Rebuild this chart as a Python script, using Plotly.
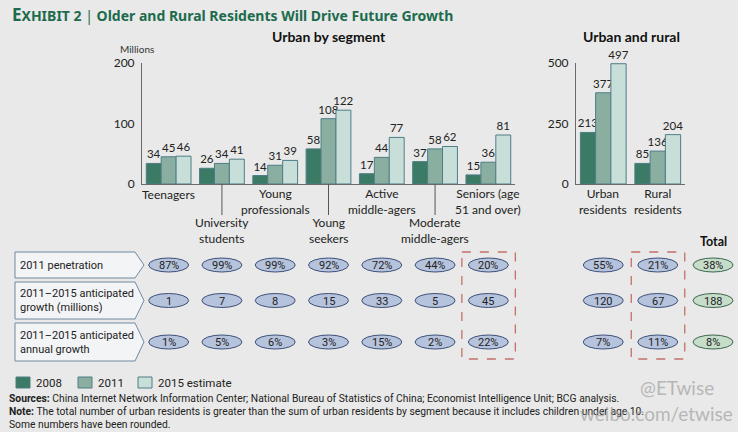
import plotly.graph_objects as go

# ---------------- data ----------------
segments = ["Teenagers", "University students", "Young professionals", "Young seekers",
            "Active middle-agers", "Moderate middle-agers", "Seniors (age 51 and over)"]
segment_labels = ["Teenagers", "University<br>students", "Young<br>professionals", "Young<br>seekers",
                  "Active<br>middle-agers", "Moderate<br>middle-agers", "Seniors (age<br>51 and over)"]
seg_2008 = [34, 26, 14, 58, 17, 37, 15]
seg_2011 = [45, 34, 31, 108, 44, 58, 36]
seg_2015 = [46, 41, 39, 122, 77, 62, 81]

areas = ["Urban residents", "Rural residents"]
area_labels = ["Urban<br>residents", "Rural<br>residents"]
area_2008 = [213, 85]
area_2011 = [377, 136]
area_2015 = [497, 204]

seg_penetration = ["87%", "99%", "99%", "92%", "72%", "44%", "20%"]
seg_growth = ["1", "7", "8", "15", "33", "5", "45"]
seg_annual = ["1%", "5%", "6%", "3%", "15%", "2%", "22%"]
area_penetration = ["55%", "21%"]
area_growth = ["120", "67"]
area_annual = ["7%", "11%"]
total_values = ["38%", "188", "8%"]

row_labels = ["2011 penetration", "2011–2015 anticipated<br>growth (millions)",
              "2011–2015 anticipated<br>annual growth"]
series_names = ["2008", "2011", "2015 estimate"]

# ---------------- style ----------------
W, H = 738, 432
BG = "#e8e9e8"
COLORS = ["#3b7a64", "#8aafa1", "#c8dfd9"]
OUTLINE = "#4f7d86"
GREEN_T = "#1d6b4e"
FONT = "Lato, Noto Sans, sans-serif"
TFONT = "Noto Sans, Open Sans, sans-serif"
NARROW = "Roboto, Liberation Sans, sans-serif"

def X(p):
    return p / W

def Y(p):
    return 1 - p / H

L0, L1 = 142, 515   # left plot pixel span
R0, R1 = 576, 685   # right plot pixel span
TOP, BASE = 63, 184

def lcx(i):
    return L0 + (i + 0.5) * (L1 - L0) / len(segments)

def rcx(j):
    return R0 + (j + 0.5) * (R1 - R0) / len(areas)

fig = go.Figure()
seg_vals = [seg_2008, seg_2011, seg_2015]
area_vals = [area_2008, area_2011, area_2015]
for k in range(3):
    fig.add_trace(go.Bar(x=segments, y=seg_vals[k], name=series_names[k], text=seg_vals[k],
                         textposition="outside", cliponaxis=False, constraintext="none",
                         textfont=dict(size=11.5, color="#222", family=FONT),
                         marker=dict(color=COLORS[k], line=dict(color=OUTLINE, width=1)),
                         showlegend=False, xaxis="x", yaxis="y"))
    fig.add_trace(go.Bar(x=areas, y=area_vals[k], name=series_names[k], text=area_vals[k],
                         textposition="outside", cliponaxis=False, constraintext="none",
                         textfont=dict(size=11.5, color="#222", family=FONT),
                         marker=dict(color=COLORS[k], line=dict(color=OUTLINE, width=1)),
                         showlegend=False, xaxis="x2", yaxis="y2"))

axis_common = dict(showgrid=False, zeroline=False, showline=True, linecolor="#6a6a6a",
                   linewidth=1, automargin=False)
fig.update_layout(
    width=W, height=H, margin=dict(l=0, r=0, t=0, b=0, pad=0, autoexpand=False),
    paper_bgcolor=BG, plot_bgcolor=BG, barmode="group", bargap=0.16, bargroupgap=0,
    showlegend=False,
    font=dict(family=FONT, color="#222"),
    xaxis=dict(domain=[X(L0), X(L1)], anchor="y", showticklabels=False, ticks="", **axis_common),
    yaxis=dict(domain=[Y(BASE), Y(TOP)], anchor="x", range=[0, 200], tickvals=[0, 100, 200],
               ticks="outside", ticklen=4, tickcolor=BG, tickfont=dict(size=12, color="#222"), **axis_common),
    xaxis2=dict(domain=[X(R0), X(R1)], anchor="y2", showticklabels=False, ticks="", **axis_common),
    yaxis2=dict(domain=[Y(BASE), Y(TOP)], anchor="x2", range=[0, 500], tickvals=[0, 250, 500],
                ticks="outside", ticklen=4, tickcolor=BG, tickfont=dict(size=12, color="#222"), **axis_common),
)

ann = []
shapes = []

def text(x, y, s, size=12, color="#222", family=FONT, xanchor="center", yanchor="middle", align="center"):
    ann.append(dict(x=X(x), y=Y(y), xref="paper", yref="paper", text=s, showarrow=False,
                    font=dict(size=size, color=color, family=family), xanchor=xanchor,
                    yanchor=yanchor, align=align))

# titles
text(10, 15, "<b><span style='font-size:17px'>E</span>XHIBIT 2</b> | <b>Older and Rural Residents Will Drive Future Growth</b>",
     size=14, color=GREEN_T, family=TFONT, xanchor="left")
text(329, 36, "<b>Urban by segment</b>", size=14, color="#111")
text(631, 36, "<b>Urban and rural</b>", size=14, color="#111")
text(118, 49, "Millions", size=10, color="#333", xanchor="left")
text(713, 241, "<b>Total</b>", size=12.5, color="#111")

# category labels (staggered)
LAB_SIZE = 12
LEAD = 1.3 * LAB_SIZE

def place_label(cx, y_first, lab):
    n = len(lab.split("<br>"))
    text(cx, y_first + LEAD * (n - 1) / 2, lab, size=LAB_SIZE)

for i, lab in enumerate(segment_labels):
    if i % 2 == 0:
        place_label(lcx(i), 194, lab)
    else:
        shapes.append(dict(type="line", xref="paper", yref="paper", x0=X(lcx(i)), x1=X(lcx(i)),
                           y0=Y(BASE), y1=Y(215), line=dict(color="#555", width=1)))
        place_label(lcx(i), 223, lab)
for j, lab in enumerate(area_labels):
    place_label(rcx(j), 194, lab)

# table: row label arrows
rows = [(252, 278), (282, 319), (323, 361)]
for (y0, y1), lab in zip(rows, row_labels):
    ym = (y0 + y1) / 2
    path = (f"M{X(15)},{Y(y0)} L{X(135)},{Y(y0)} L{X(144)},{Y(ym)} "
            f"L{X(135)},{Y(y1)} L{X(15)},{Y(y1)} Z")
    shapes.append(dict(type="path", path=path, xref="paper", yref="paper",
                       fillcolor="#f2f4f6", line=dict(color="#7189a0", width=1)))
    text(18, ym, lab, size=11, family=NARROW, xanchor="left", align="left")

def oval(cx, cy, s, fill, line):
    shapes.append(dict(type="circle", xref="paper", yref="paper", x0=X(cx - 20), x1=X(cx + 20),
                       y0=Y(cy - 7), y1=Y(cy + 7), fillcolor=fill, line=dict(color=line, width=1)))
    text(cx, cy + 0.5, s, size=11, family=NARROW, color="#222")

BLUE_F, BLUE_L = "#b6c3dc", "#3e5079"
GREEN_F, GREEN_L = "#c6ddca", "#3d6650"
seg_rows = [seg_penetration, seg_growth, seg_annual]
area_rows = [area_penetration, area_growth, area_annual]
for r, (y0, y1) in enumerate(rows):
    cy = (y0 + y1) / 2
    for i, v in enumerate(seg_rows[r]):
        oval(lcx(i), cy, v, BLUE_F, BLUE_L)
    for j, v in enumerate(area_rows[r]):
        oval(rcx(j), cy, v, BLUE_F, BLUE_L)
    oval(713, cy, total_values[r], GREEN_F, GREEN_L)

# dashed highlight boxes
for cx in (lcx(len(segments) - 1), rcx(len(areas) - 1)):
    shapes.append(dict(type="rect", xref="paper", yref="paper", x0=X(cx - 26.5), x1=X(cx + 27),
                       y0=Y(252), y1=Y(359), line=dict(color="#c4706b", width=1.3, dash="dash"),
                       fillcolor="rgba(0,0,0,0)"))

# legend
leg_x = [16, 78, 138]
for k, name in enumerate(series_names):
    shapes.append(dict(type="rect", xref="paper", yref="paper", x0=X(leg_x[k]), x1=X(leg_x[k] + 14),
                       y0=Y(388), y1=Y(377), fillcolor=COLORS[k], line=dict(color=OUTLINE, width=1)))
    text(leg_x[k] + 18, 382.5, name, size=11.5, family=NARROW, xanchor="left")

# footnotes
text(7, 398, "<b>Sources:</b> China Internet Network Information Center; National Bureau of Statistics of China; Economist Intelligence Unit; BCG analysis.",
     size=10.3, family=NARROW, xanchor="left", align="left")
text(7, 411, "<b>Note:</b> The total number of urban residents is greater than the sum of urban residents by segment because it includes children under age 10.",
     size=10.3, family=NARROW, xanchor="left", align="left")
text(7, 424, "Some numbers have been rounded.", size=10.3, family=NARROW, xanchor="left", align="left")

# watermark
text(677, 387, "@ETwise", size=19, color="rgba(160,160,160,0.7)", family=FONT)
text(656, 413, "weibo.com/etwise", size=19, color="rgba(160,160,160,0.7)", family=FONT)

fig.update_layout(annotations=ann, shapes=shapes)
fig.write_html("out.html", config={"displayModeBar": False},
               post_script="document.body.style.margin='0';document.body.style.overflow='hidden';")
